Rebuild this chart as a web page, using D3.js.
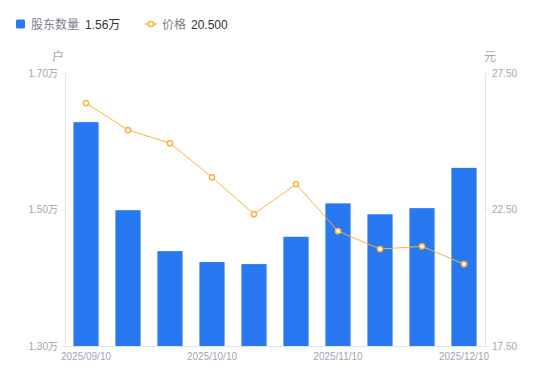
<!DOCTYPE html>
<html>
<head>
<meta charset="utf-8">
<script src="https://cdn.jsdelivr.net/npm/d3@7/dist/d3.min.js"></script>
<style>
  body { margin: 0; background: #fff; font-family: "Liberation Sans", "Noto Sans CJK SC", sans-serif; }
  .tick text { fill: #a3a3b3; font-size: 10px; }
</style>
</head>
<body>
<svg id="chart" width="550" height="381"></svg>
<script>
  // data
  const dates = ['2025/09/10', '2025/09/20', '2025/09/30', '2025/10/10', '2025/10/20',
                 '2025/10/31', '2025/11/10', '2025/11/20', '2025/11/30', '2025/12/10'];
  const holders = [1.628, 1.499, 1.439, 1.423, 1.420, 1.460, 1.509, 1.493, 1.502, 1.561]; // 万户
  const prices = [26.40, 25.41, 24.93, 23.68, 22.33, 23.43, 21.71, 21.05, 21.15, 20.50];
  const leftTicks = [1.30, 1.50, 1.70];
  const rightTicks = [17.5, 22.5, 27.5];
  const shownDates = ['2025/09/10', '2025/10/10', '2025/11/10', '2025/12/10'];

  const barColor = '#2878f2';
  const lineColor = '#f8b33c';
  const axisColor = '#e3e3e8';
  const font = '"Liberation Sans", "Noto Sans CJK SC", sans-serif';

  const margin = {top: 73, right: 65, bottom: 35, left: 65};
  const width = 550, height = 381;
  const svg = d3.select('#chart');

  const x = d3.scaleBand()
    .domain(dates)
    .range([margin.left, width - margin.right])
    .paddingInner(0.4)
    .paddingOuter(0.2);
  const yL = d3.scaleLinear().domain([1.30, 1.70]).range([height - margin.bottom, margin.top]);
  const yR = d3.scaleLinear().domain([17.5, 27.5]).range([height - margin.bottom, margin.top]);

  // bars
  svg.append('g').selectAll('rect')
    .data(holders)
    .join('rect')
    .attr('x', (d, i) => x(dates[i]))
    .attr('y', d => yL(d))
    .attr('width', x.bandwidth())
    .attr('height', d => yL(1.30) - yL(d))
    .attr('fill', barColor);

  // axes
  const leftAxis = svg.append('g')
    .attr('transform', `translate(${margin.left},0)`)
    .call(d3.axisLeft(yL).tickValues(leftTicks).tickSize(4).tickPadding(3)
      .tickFormat(d => d3.format('.2f')(d) + '万'));
  const rightAxis = svg.append('g')
    .attr('transform', `translate(${width - margin.right},0)`)
    .call(d3.axisRight(yR).tickValues(rightTicks).tickSize(4).tickPadding(3)
      .tickFormat(d3.format('.2f')));
  const bottomAxis = svg.append('g')
    .attr('transform', `translate(0,${height - margin.bottom})`)
    .call(d3.axisBottom(x).tickValues(shownDates).tickSize(0).tickPadding(7));

  [leftAxis, rightAxis, bottomAxis].forEach(g => {
    g.selectAll('path, line').attr('stroke', axisColor);
    g.selectAll('text').attr('font-family', font);
  });
  bottomAxis.select('.domain').attr('d', `M${margin.left},0.5H${width - margin.right}`);

  // unit labels
  svg.append('text').attr('x', 58).attr('y', 61).attr('text-anchor', 'middle')
    .attr('fill', '#a3a3b3').attr('font-size', 12).text('户');
  svg.append('text').attr('x', 490).attr('y', 61).attr('text-anchor', 'middle')
    .attr('fill', '#a3a3b3').attr('font-size', 12).text('元');

  // price line
  const cx = (d, i) => x(dates[i]) + x.bandwidth() / 2;
  svg.append('path')
    .datum(prices)
    .attr('fill', 'none')
    .attr('stroke', lineColor)
    .attr('stroke-width', 1)
    .attr('d', d3.line().x(cx).y(d => yR(d)));
  svg.append('g').selectAll('circle')
    .data(prices)
    .join('circle')
    .attr('cx', cx)
    .attr('cy', d => yR(d))
    .attr('r', 2.6)
    .attr('fill', '#fff')
    .attr('stroke', lineColor)
    .attr('stroke-width', 1.5);

  // legend
  const legend = svg.append('g').attr('font-size', 12).attr('font-family', font);
  legend.append('rect').attr('x', 16).attr('y', 19.5).attr('width', 9).attr('height', 9)
    .attr('rx', 1.5).attr('fill', barColor);
  legend.append('text').attr('x', 31).attr('y', 28.5).attr('fill', '#80808c').text('股东数量');
  legend.append('text').attr('x', 85).attr('y', 28.5).attr('fill', '#333').text(d3.format('.2f')(holders[holders.length - 1]) + '万');
  legend.append('line').attr('x1', 145).attr('x2', 157).attr('y1', 24).attr('y2', 24)
    .attr('stroke', lineColor).attr('stroke-width', 1.5);
  legend.append('circle').attr('cx', 151).attr('cy', 24).attr('r', 2.6)
    .attr('fill', '#fff').attr('stroke', lineColor).attr('stroke-width', 1.5);
  legend.append('text').attr('x', 162).attr('y', 28.5).attr('fill', '#80808c').text('价格');
  legend.append('text').attr('x', 191).attr('y', 28.5).attr('fill', '#333').text(d3.format('.3f')(prices[prices.length - 1]));
</script>
</body>
</html>
